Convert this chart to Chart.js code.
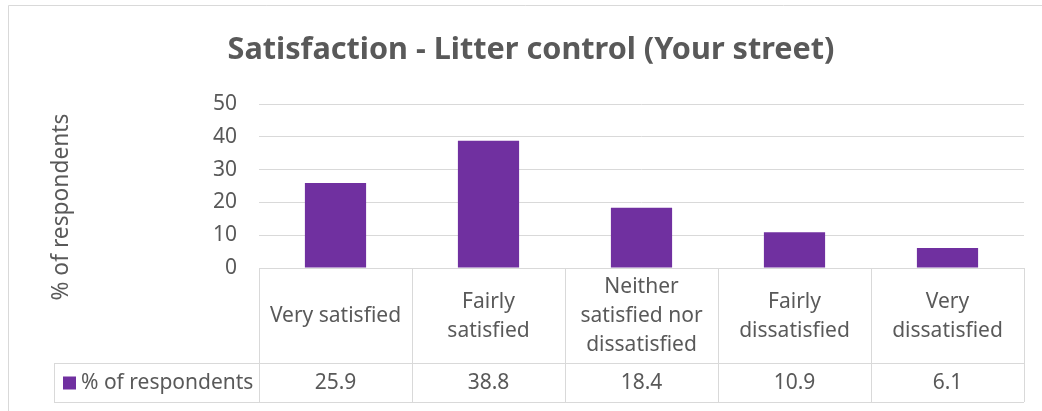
<!DOCTYPE html>
<html>
<head>
<meta charset="utf-8">
<script src="https://cdn.jsdelivr.net/npm/chart.js@4"></script>
<style>
  html, body { margin: 0; padding: 0; background: #fff; }
  #wrap { width: 1042px; height: 411px; position: relative; }
</style>
</head>
<body>
<div id="wrap"><canvas id="c" width="1042" height="411"></canvas></div>
<script>
const titleText = "Satisfaction - Litter control (Your street)";
const yAxisTitle = "% of respondents";
const seriesName = "% of respondents";
const categories = [
  ["Very satisfied"],
  ["Fairly", "satisfied"],
  ["Neither", "satisfied nor", "dissatisfied"],
  ["Fairly", "dissatisfied"],
  ["Very", "dissatisfied"]
];
const values = [25.9, 38.8, 18.4, 10.9, 6.1];
const yMin = 0, yMax = 50, yStep = 10;

const TXT = "#595959";
const GRID = "#d9d9d9";
const BAR = "#7030A0";
const FONT = "'Noto Sans', sans-serif";

function fitSize(ctx, text, weight, target) {
  ctx.font = weight + " 100px " + FONT;
  const w = ctx.measureText(text).width;
  return 100 * target / w;
}

const tablePlugin = {
  id: "tablePlugin",
  beforeDraw(chart) {
    const ctx = chart.ctx;
    ctx.save();
    ctx.fillStyle = "#fff";
    ctx.fillRect(0, 0, chart.width, chart.height);
    // outer frame
    ctx.strokeStyle = GRID;
    ctx.lineWidth = 1;
    ctx.beginPath();
    ctx.moveTo(8.5, chart.height);
    ctx.lineTo(8.5, 5.5);
    ctx.lineTo(chart.width, 5.5);
    ctx.stroke();
    ctx.restore();
  },
  afterDraw(chart) {
    const ctx = chart.ctx;
    const area = chart.chartArea;
    const xs = chart.scales.x;
    const n = categories.length;
    const cw = (area.right - area.left) / n;
    const top = area.bottom;
    const rowMid = top + 95;
    const bottom = rowMid + 39;
    const legendLeft = 54;
    ctx.save();
    // title
    const ts = fitSize(ctx, titleText, "bold", 607);
    ctx.font = "bold " + ts.toFixed(2) + "px " + FONT;
    ctx.fillStyle = TXT;
    ctx.textAlign = "center";
    ctx.textBaseline = "middle";
    ctx.fillText(titleText, 531, 50);
    // y axis title
    const ys = fitSize(ctx, yAxisTitle, "normal", 187);
    ctx.save();
    ctx.translate(62, 207);
    ctx.rotate(-Math.PI / 2);
    ctx.font = ys.toFixed(2) + "px " + FONT;
    ctx.fillText(yAxisTitle, 0, 0);
    ctx.restore();
    // table lines
    ctx.strokeStyle = GRID;
    ctx.lineWidth = 1;
    ctx.beginPath();
    ctx.moveTo(area.left, top + 0.5); ctx.lineTo(area.right, top + 0.5);
    ctx.moveTo(legendLeft, rowMid + 0.5); ctx.lineTo(area.right, rowMid + 0.5);
    ctx.moveTo(legendLeft, bottom + 0.5); ctx.lineTo(area.right, bottom + 0.5);
    ctx.moveTo(legendLeft + 0.5, rowMid); ctx.lineTo(legendLeft + 0.5, bottom);
    for (let i = 0; i <= n; i++) {
      const x = Math.round(area.left + i * cw) + 0.5;
      ctx.moveTo(x, top); ctx.lineTo(x, bottom);
    }
    ctx.stroke();
    // category labels
    ctx.font = "21px " + FONT;
    ctx.fillStyle = TXT;
    ctx.textAlign = "center";
    ctx.textBaseline = "middle";
    const lh = 29;
    const labelMid = (top + rowMid) / 2 + 1;
    for (let i = 0; i < n; i++) {
      const cx = xs.getPixelForValue(i);
      const lines = categories[i];
      const y0 = labelMid - (lines.length - 1) * lh / 2;
      lines.forEach((t, k) => ctx.fillText(t, cx, y0 + k * lh));
      ctx.fillText(values[i].toFixed(1), cx, (rowMid + bottom) / 2 + 1);
    }
    // legend cell
    const vm = (rowMid + bottom) / 2;
    ctx.fillStyle = BAR;
    ctx.fillRect(63, vm - 6, 13, 13);
    ctx.fillStyle = TXT;
    ctx.textAlign = "left";
    ctx.fillText(seriesName, 81, vm + 1);
    ctx.restore();
  }
};

new Chart(document.getElementById("c"), {
  type: "bar",
  data: {
    labels: categories,
    datasets: [{
      label: seriesName,
      data: values,
      backgroundColor: BAR,
      borderWidth: 0,
      barPercentage: 0.4,
      categoryPercentage: 1.0
    }]
  },
  options: {
    responsive: false,
    animation: false,
    devicePixelRatio: 1,
    layout: { padding: { top: 104, bottom: 143, left: 0, right: 18 } },
    plugins: { legend: { display: false }, title: { display: false }, tooltip: { enabled: false } },
    scales: {
      x: { display: false },
      y: {
        min: yMin, max: yMax,
        ticks: { stepSize: yStep, color: TXT, font: { family: FONT, size: 21 }, padding: 22 },
        grid: { color: GRID, lineWidth: 1, drawTicks: false },
        border: { display: false },
        afterFit(s) { s.width = 259; }
      }
    }
  },
  plugins: [tablePlugin]
});
</script>
</body>
</html>
